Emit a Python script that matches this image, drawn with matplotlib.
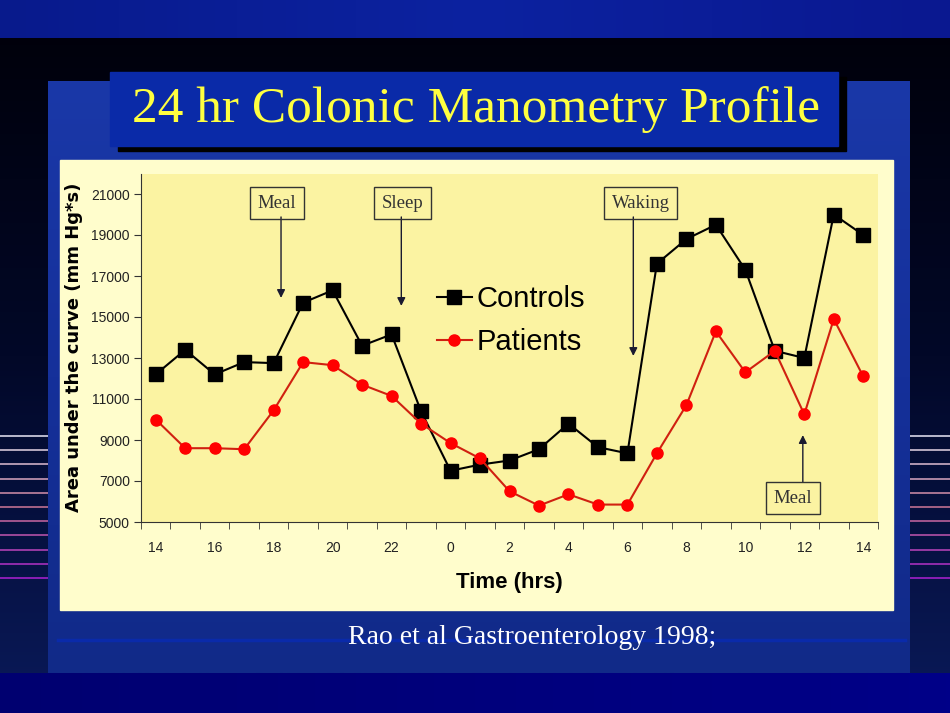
import numpy as np
import matplotlib.pyplot as plt
from matplotlib.patches import Rectangle
from matplotlib.colors import LinearSegmentedColormap

# time axis: 14:00 one day to 14:00 the next, hourly
hours = [14, 15, 16, 17, 18, 19, 20, 21, 22, 23, 0, 1, 2, 3, 4, 5, 6,
         7, 8, 9, 10, 11, 12, 13, 14]
controls = [12200, 13400, 12200, 12800, 12750, 15700, 16300, 13600, 14150,
            10400, 7500, 7800, 8000, 8550, 9800, 8650, 8350, 17600, 18800,
            19500, 17300, 13350, 13000, 20000, 19000]
patients = [10000, 8600, 8600, 8550, 10450, 12800, 12650, 11700, 11150,
            9800, 8850, 8100, 6500, 5800, 6350, 5850, 5850, 8350, 10700,
            14300, 12300, 13350, 10250, 14900, 12100]
yticks = list(range(5000, 21001, 2000))

W, H = 950, 713
fig = plt.figure(figsize=(W / 100, H / 100), dpi=100)

# ---- slide background ----
bg = fig.add_axes([0, 0, 1, 1])
bg.axis('off')

def grad(ax, extent, colors, horizontal=False, z=0):
    # first colour at the top (or left)
    cmap = LinearSegmentedColormap.from_list('g', colors)
    g = np.linspace(0, 1, 256)
    img = g[None, :] if horizontal else g[:, None]
    ax.imshow(img, cmap=cmap, extent=extent, aspect='auto', zorder=z)

grad(bg, (0, W, 713, 0), ['#000008', '#020828', '#0a1a5a'])
grad(bg, (0, W, 38, 0), ['#081a8c', '#0c22a0', '#0a1890'], horizontal=True, z=0.1)
grad(bg, (0, W, 713, 673), ['#000070', '#00007c', '#000088'], horizontal=True, z=0.1)

# side stripes
ys = np.linspace(436, 578, 11)
scols = LinearSegmentedColormap.from_list('s', ['#d8d8e8', '#c07090', '#a020c8'])
for k, y in enumerate(ys):
    c = scols(k / 10)
    bg.plot([0, 48], [y, y], color=c, lw=1.2, zorder=1)
    bg.plot([910, W], [y, y], color=c, lw=1.2, zorder=1)

# blue panel
grad(bg, (48, 910, 673, 81), ['#1a38a8', '#15309a', '#112a88'], z=1.5)
bg.plot([58, 905], [640, 640], color='#0a2aaa', lw=2.5, zorder=1.6)

# title box
bg.add_patch(Rectangle((118, 77), 728, 74, color='black', zorder=2))
bg.add_patch(Rectangle((110, 72), 728, 74, color='#0a2aa8', zorder=3))
bg.text(476, 110, '24 hr Colonic Manometry Profile', color='#ffff40',
        family='Liberation Serif', fontsize=37, ha='center', va='center', zorder=4)

# chart area
bg.add_patch(Rectangle((60, 160), 833, 450, color='#fffdcc', zorder=2))

bg.text(532, 637, 'Rao et al Gastroenterology 1998;', color='white',
        family='Liberation Serif', fontsize=20, ha='center', va='center', zorder=4)
bg.set_xlim(0, W)
bg.set_ylim(H, 0)

# ---- chart ----
ax = fig.add_axes([141 / W, (H - 522) / H, (878 - 141) / W, (522 - 173.5) / H])
ax.set_facecolor('#fbf3a2')
x = np.arange(len(hours))
ax.plot(x, controls, color='black', lw=1.5, marker='s', ms=9.5, mfc='black',
        mec='black', label='Controls', zorder=3)
ax.plot(x, patients, color='#d02010', lw=1.5, marker='o', ms=8, mfc='#ff0000',
        mec='#ff0000', label='Patients', zorder=3)

ax.set_xlim(-0.5, len(hours) - 0.5)
ax.set_ylim(5000, 22000)
ax.set_yticks(yticks)
ax.set_yticklabels([str(v) for v in yticks], family='Liberation Sans', fontsize=10, color='#222222')
ax.set_xticks(x[::2])
ax.set_xticklabels([str(h) for h in hours[::2]], family='Liberation Sans', fontsize=10, color='#222222')
ax.set_xticks(np.arange(-0.5, len(hours)), minor=True)
ax.tick_params(axis='x', which='major', length=0, pad=14)
ax.tick_params(axis='x', which='minor', length=5, color='#333333', direction='out')
ax.tick_params(axis='y', length=5, color='#333333', direction='out', pad=3)
for s in ['top', 'right']:
    ax.spines[s].set_visible(False)
for s in ['left', 'bottom']:
    ax.spines[s].set_color('#333333')

ax.set_ylabel('Area under the curve (mm Hg*s)', family='DejaVu Sans',
              fontweight='bold', fontsize=13, labelpad=6)
ax.set_xlabel('Time (hrs)', family='Liberation Sans', fontweight='bold', fontsize=16, labelpad=12)

leg = ax.legend(loc='upper left', bbox_to_anchor=(0.366, 0.755), frameon=False,
                prop={'family': 'Liberation Sans', 'size': 21},
                handlelength=1.2, handletextpad=0.17, labelspacing=0.5)

box = dict(boxstyle='square,pad=0.4', fc='none', ec='#333333', lw=1)
arr = dict(arrowstyle='-|>', color='#1a1a30', lw=1, mutation_scale=12, shrinkA=0, shrinkB=0)
# label, box x, box y, arrow x, arrow start y, arrow tip y
notes = [('Meal', 4.12, 20560, 4.25, 19880, 15930),
         ('Sleep', 8.37, 20560, 8.33, 19880, 15540),
         ('Waking', 16.45, 20560, 16.2, 19880, 13100),
         ('Meal', 21.62, 6170, 21.95, 6950, 9240)]
for txt, bx, by, xa, y0, y1 in notes:
    ax.text(bx, by, txt, ha='center', va='center', family='Liberation Serif',
            fontsize=13.5, color='#333333', bbox=box, zorder=4)
    ax.annotate('', xy=(xa, y1), xytext=(xa, y0), arrowprops=arr)

fig.savefig('out.png', dpi=100)
